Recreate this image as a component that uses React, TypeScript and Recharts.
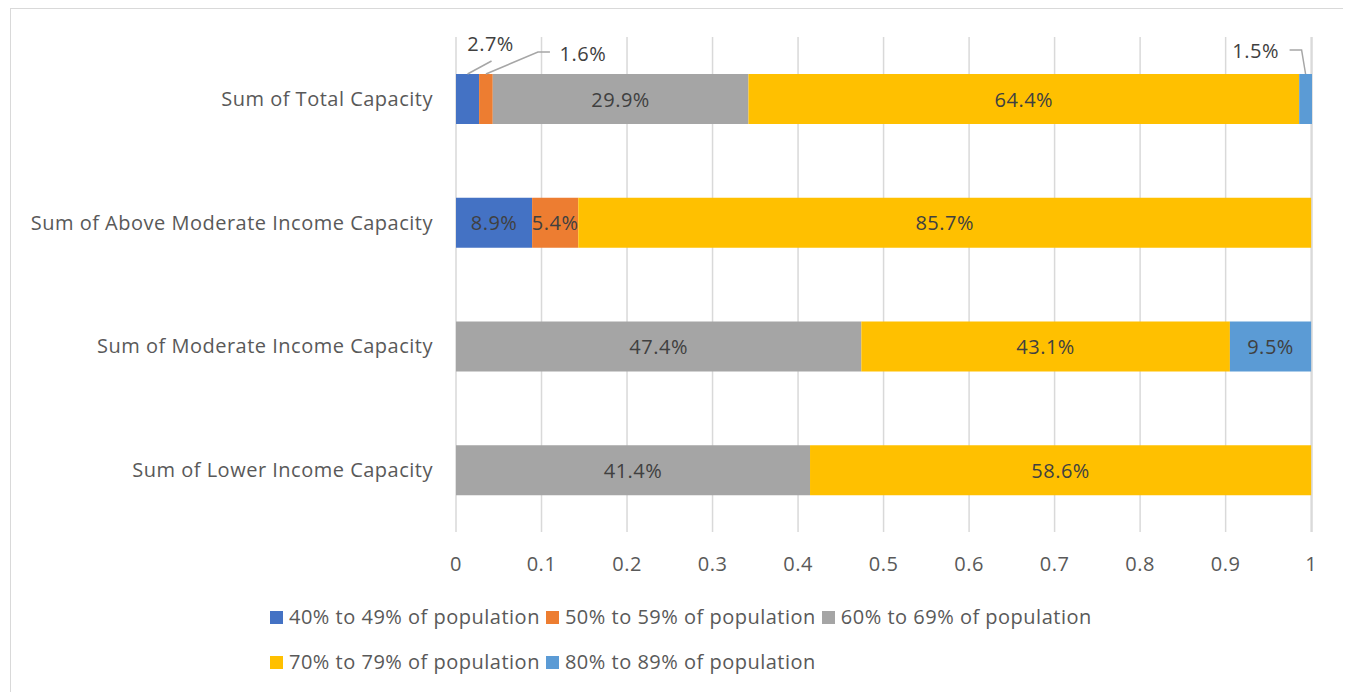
import { Bar, BarChart, CartesianGrid, LabelList, XAxis, YAxis } from 'recharts';

// Shares per capacity row, one array per population band (fractions of 1).
const CATEGORIES = [
  'Sum of Total Capacity',
  'Sum of Above Moderate Income Capacity',
  'Sum of Moderate Income Capacity',
  'Sum of Lower Income Capacity',
];
const BAND_40_49 = [0.027, 0.089, 0, 0];
const BAND_50_59 = [0.016, 0.054, 0, 0];
const BAND_60_69 = [0.299, 0, 0.474, 0.414];
const BAND_70_79 = [0.644, 0.857, 0.431, 0.586];
const BAND_80_89 = [0.015, 0, 0.095, 0];
const X_TICKS = [0, 0.1, 0.2, 0.3, 0.4, 0.5, 0.6, 0.7, 0.8, 0.9, 1];

const SERIES = [
  { key: 'b40', name: '40% to 49% of population', color: '#4472C4', values: BAND_40_49 },
  { key: 'b50', name: '50% to 59% of population', color: '#ED7D31', values: BAND_50_59 },
  { key: 'b60', name: '60% to 69% of population', color: '#A5A5A5', values: BAND_60_69 },
  { key: 'b70', name: '70% to 79% of population', color: '#FFC000', values: BAND_70_79 },
  { key: 'b80', name: '80% to 89% of population', color: '#5B9BD5', values: BAND_80_89 },
];

const data = CATEGORIES.map((name, i) => {
  const row: Record<string, string | number> = { name };
  SERIES.forEach((s) => (row[s.key] = s.values[i]));
  return row;
});

const FONT = '"Open Sans", sans-serif';
const FS = 20;
const LS = 0.5;
const LABEL = '#404040';
const MUTED = '#595959';
const GRID = '#D9D9D9';
const pct = (v: number) => (v * 100).toFixed(1) + '%';

// callout placement for slivers too thin to hold their label (styling only)
const CALLOUTS: Record<string, { tx: number; ty: number; path: (x: number, y: number) => string }> = {
  b40: { tx: 23, ty: -31, path: (x, y) => `M${x},${y} L${x + 24},${y - 13}` },
  b50: { tx: 97, ty: -21, path: (x, y) => `M${x},${y} L${x + 52},${y - 22} L${x + 64},${y - 22}` },
  b80: { tx: -50, ty: -24, path: (x, y) => `M${x},${y} L${x - 4},${y - 24} L${x - 16},${y - 24}` },
};

function makeLabel(seriesKey: string) {
  return (props: any) => {
    const { x, y, width, height, value, index } = props;
    if (!value) return null;
    const cx = Number(x) + Number(width) / 2;
    const cy = Number(y) + Number(height) / 2;
    const textProps = {
      textAnchor: 'middle' as const,
      dominantBaseline: 'central' as const,
      fill: LABEL,
      fontSize: FS,
      fontFamily: FONT,
      letterSpacing: LS,
    };
    if (index === 0 && value < 0.03 && CALLOUTS[seriesKey]) {
      const c = CALLOUTS[seriesKey];
      const top = Number(y);
      return (
        <g>
          <path d={c.path(cx, top)} stroke="#A6A6A6" strokeWidth={1.5} fill="none" />
          <text x={cx + c.tx} y={top + c.ty} {...textProps}>
            {pct(value)}
          </text>
        </g>
      );
    }
    return (
      <text x={cx} y={cy} {...textProps}>
        {pct(value)}
      </text>
    );
  };
}

export default function App() {
  const tick = { fill: MUTED, fontSize: FS, fontFamily: FONT, letterSpacing: LS };
  return (
    <div
      style={{
        position: 'relative',
        marginLeft: 2,
        width: 1335,
        height: 700,
        border: `1px solid ${GRID}`,
        background: '#fff',
        fontFamily: FONT,
      }}
    >
      <BarChart
        width={1335}
        height={573}
        data={data}
        layout="vertical"
        barSize={50}
        margin={{ top: 28, right: 34, bottom: 0, left: 0 }}
      >
        <CartesianGrid horizontal={false} stroke={GRID} strokeWidth={1.5} />
        <XAxis
          type="number"
          domain={[0, 1]}
          ticks={X_TICKS}
          tickFormatter={(v) => String(v)}
          axisLine={false}
          tickLine={false}
          tickSize={0}
          tickMargin={25}
          height={50}
          tick={tick}
        />
        <YAxis
          type="category"
          dataKey="name"
          width={445}
          axisLine={false}
          tickLine={false}
          tickSize={0}
          tickMargin={23}
          tick={tick}
        />
        {SERIES.map((s) => (
          <Bar key={s.key} dataKey={s.key} name={s.name} stackId="a" fill={s.color} isAnimationActive={false}>
            <LabelList dataKey={s.key} content={makeLabel(s.key)} />
          </Bar>
        ))}
      </BarChart>
      <div
        style={{
          position: 'absolute',
          left: 259,
          top: 595,
          width: 880,
          display: 'flex',
          flexWrap: 'wrap',
          rowGap: 19,
          columnGap: 6,
          fontSize: FS,
          letterSpacing: LS,
          color: MUTED,
          lineHeight: '26px',
        }}
      >
        {SERIES.map((s) => (
          <div key={s.key} style={{ display: 'flex', alignItems: 'center' }}>
            <span style={{ width: 13, height: 13, background: s.color, marginRight: 6, display: 'inline-block' }} />
            <span>{s.name}</span>
          </div>
        ))}
      </div>
    </div>
  );
}
